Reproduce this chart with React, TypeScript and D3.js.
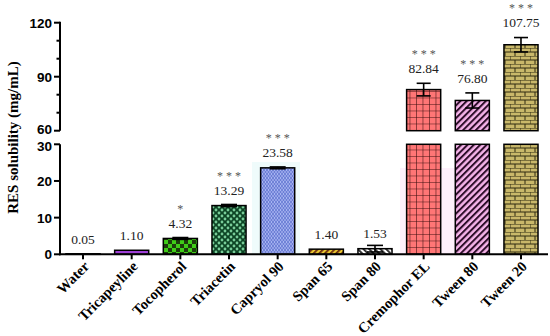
import React from "react";
import * as d3 from "d3";

const categories = ["Water", "Tricapeyline", "Tocopherol", "Triacetin", "Capryol 90", "Span 65", "Span 80", "Cremophor EL", "Tween 80", "Tween 20"];
const values = [0.05, 1.1, 4.32, 13.29, 23.58, 1.4, 1.53, 82.84, 76.8, 107.75];
const errors = [0, 0, 0.25, 0.3, 0.25, 0, 0.9, 3.5, 4.2, 4.0];
const valueLabels = ["0.05", "1.10", "4.32", "13.29", "23.58", "1.40", "1.53", "82.84", "76.80", "107.75"];
const stars = ["", "", "*", "* * *", "* * *", "", "", "* * *", "* * *", "* * *"];
const topTicks = [60, 90, 120];
const topMinorTicks = [70, 80, 100, 110];
const bottomTicks = [0, 10, 20, 30];
const fills = ["#ffffff", "url(#pTricap)", "url(#pToco)", "url(#pTriac)", "url(#pCapryol)", "url(#pSpan65)", "url(#pSpan80)", "url(#pCremo)", "url(#pTw80)", "url(#pTw20)"];

const W = 550;
const H = 336;
const AX = 60;
const X_END = 548;

export default function App() {
  const x = d3.scaleBand<string>().domain(categories).range([60, 544]).paddingInner(0.3).paddingOuter(0.123);
  const yTop = d3.scaleLinear().domain([60, 120]).range([130.7, 22.7]);
  const yBot = d3.scaleLinear().domain([0, 30]).range([254.3, 144.3]);
  const bw = x.bandwidth();
  const serif = "'Liberation Serif', 'Times New Roman', serif";
  const sans = "'Liberation Sans', Arial, sans-serif";

  const yOf = (v: number) => (v >= 60 ? yTop(v) : yBot(v));

  return (
    <svg width={W} height={H} style={{ position: "absolute", left: 0, top: 0, background: "#fff" }}>
      <defs>
        <pattern id="pTricap" patternUnits="userSpaceOnUse" width="4" height="4">
          <rect width="4" height="4" fill="#a040d8" />
        </pattern>
        <pattern id="pToco" patternUnits="userSpaceOnUse" width="8" height="8">
          <rect width="8" height="8" fill="#3fcc18" />
          <rect x="0" y="0" width="4" height="4" fill="#1c3c0c" />
          <rect x="4" y="4" width="4" height="4" fill="#1c3c0c" />
        </pattern>
        <pattern id="pTriac" patternUnits="userSpaceOnUse" width="6" height="6">
          <rect width="6" height="6" fill="#0c4424" />
          <circle cx="0" cy="0" r="1.4" fill="#78cc98" />
          <circle cx="6" cy="0" r="1.4" fill="#78cc98" />
          <circle cx="0" cy="6" r="1.4" fill="#78cc98" />
          <circle cx="6" cy="6" r="1.4" fill="#78cc98" />
          <circle cx="3" cy="3" r="1.4" fill="#78cc98" />
        </pattern>
        <pattern id="pCapryol" patternUnits="userSpaceOnUse" width="6" height="4">
          <rect width="6" height="4" fill="#a8b6f2" />
          <path d="M0,2 L1.5,0 L3,2 L4.5,0 L6,2 M0,2 L1.5,4 L3,2 L4.5,4 L6,2" stroke="#5264c8" strokeWidth="0.7" fill="none" />
        </pattern>
        <pattern id="pSpan65" patternUnits="userSpaceOnUse" width="4" height="4" patternTransform="rotate(45)">
          <rect width="4" height="4" fill="#e8c830" />
          <rect width="1.8" height="4" fill="#6a2a10" />
        </pattern>
        <pattern id="pSpan80" patternUnits="userSpaceOnUse" width="4" height="4" patternTransform="rotate(-45)">
          <rect width="4" height="4" fill="#ffffff" />
          <rect width="1.8" height="4" fill="#222222" />
        </pattern>
        <pattern id="pCremo" patternUnits="userSpaceOnUse" width="6.5" height="6.5">
          <rect width="6.5" height="6.5" fill="#ff7676" />
          <path d="M0,0 L6.5,0 M0,0 L0,6.5" stroke="#3a0c0c" strokeWidth="1.1" />
        </pattern>
        <pattern id="pTw80" patternUnits="userSpaceOnUse" width="4.5" height="4.5" patternTransform="rotate(45)">
          <rect width="4.5" height="4.5" fill="#f6b4ea" />
          <rect width="2" height="4.5" fill="#2e0e2a" />
        </pattern>
        <pattern id="pTw20" patternUnits="userSpaceOnUse" width="10" height="8">
          <rect width="10" height="8" fill="#c9b86a" />
          <path d="M0,0 L10,0 M0,4 L10,4 M0,0 L0,4 M5,4 L5,8" stroke="#2e2a10" strokeWidth="1" fill="none" />
        </pattern>
      </defs>

      {/* faint background artefacts */}
      <rect x={252} y={162} width={48} height={92} fill="#effbfb" />
      <rect x={400} y={168} width={70} height={86} fill="#fdf0fb" />

      {/* bars */}
      {categories.map((c, i) => {
        const v = values[i];
        const x0 = x(c) as number;
        if (v > 30) {
          return (
            <g key={c}>
              <rect x={x0} y={yBot(30)} width={bw} height={yBot(0) - yBot(30)} fill={fills[i]} stroke="#000" strokeWidth={1.5} />
              <rect x={x0} y={yTop(v)} width={bw} height={yTop(60) - yTop(v)} fill={fills[i]} stroke="#000" strokeWidth={1.5} />
            </g>
          );
        }
        const h = Math.max(yBot(0) - yBot(v), 0.5);
        return <rect key={c} x={x0} y={yBot(0) - h} width={bw} height={h} fill={fills[i]} stroke="#000" strokeWidth={1.5} />;
      })}

      {/* error bars */}
      {categories.map((c, i) => {
        const e = errors[i];
        if (!e) return null;
        const cx = (x(c) as number) + bw / 2;
        const v = values[i];
        const yHi = yOf(v + e);
        const yLo = yOf(v - e);
        const cw = v >= 60 ? 7 : 8;
        return (
          <g key={"e" + c} stroke="#000" strokeWidth={1.6}>
            <line x1={cx} x2={cx} y1={yHi} y2={yLo} />
            <line x1={cx - cw} x2={cx + cw} y1={yHi} y2={yHi} />
            <line x1={cx - cw} x2={cx + cw} y1={yLo} y2={yLo} />
          </g>
        );
      })}

      {/* value labels and stars */}
      {categories.map((c, i) => {
        const cx = (x(c) as number) + bw / 2;
        const v = values[i];
        const anchorV = v >= 60 ? v + errors[i] : v;
        const valBase = yOf(anchorV) - 15 + 4.6;
        return (
          <g key={"l" + c} fontFamily={serif} textAnchor="middle">
            <text x={cx} y={valBase} fontSize={13.5} fill="#222">{valueLabels[i]}</text>
            {stars[i] && (
              <text x={cx} y={valBase - 15} fontSize={12} fill="#555">{stars[i]}</text>
            )}
          </g>
        );
      })}

      {/* y axis */}
      <g stroke="#000" strokeWidth={2}>
        <line x1={AX} x2={AX} y1={yTop(120) - 1} y2={yTop(60)} />
        <line x1={AX} x2={AX} y1={yBot(30)} y2={yBot(0) + 1} />
        {topTicks.map((t) => (
          <line key={"tt" + t} x1={AX - 6} x2={AX} y1={yTop(t)} y2={yTop(t)} />
        ))}
        {topMinorTicks.map((t) => (
          <line key={"tm" + t} x1={AX - 3.5} x2={AX} y1={yTop(t)} y2={yTop(t)} />
        ))}
        {bottomTicks.map((t) => (
          <line key={"bt" + t} x1={AX - 6} x2={AX} y1={yBot(t)} y2={yBot(t)} />
        ))}
      </g>
      <g fontFamily={sans} fontWeight="bold" fontSize={13.5} textAnchor="end" fill="#000">
        {topTicks.map((t, k) => (
          <text key={"ttl" + t} x={AX - 8} y={yTop(t) + 5 - (k === 0 ? 2 : 0)}>{t}</text>
        ))}
        {bottomTicks.map((t, k) => (
          <text key={"btl" + t} x={AX - 8} y={yBot(t) + 5 + (k === bottomTicks.length - 1 ? 2 : 0)}>{t}</text>
        ))}
      </g>
      <text
        transform={`translate(18,137.5) rotate(-90)`}
        fontFamily={serif}
        fontWeight="bold"
        fontSize={15}
        textAnchor="middle"
        fill="#000"
      >
        RES solubility (mg/mL)
      </text>

      {/* x axis */}
      <g stroke="#000" strokeWidth={2}>
        <line x1={AX - 1} x2={X_END} y1={yBot(0)} y2={yBot(0)} />
        {categories.map((c) => {
          const cx = (x(c) as number) + bw / 2;
          return <line key={"xt" + c} x1={cx} x2={cx} y1={yBot(0)} y2={yBot(0) + 5} />;
        })}
      </g>
      <g fontFamily={serif} fontWeight="bold" fontSize={14.5} textAnchor="end" fill="#000">
        {categories.map((c) => {
          const cx = (x(c) as number) + bw / 2;
          return (
            <text key={"xl" + c} transform={`translate(${cx + 7},${yBot(0) + 13}) rotate(-45)`}>
              {c}
            </text>
          );
        })}
      </g>
    </svg>
  );
}
